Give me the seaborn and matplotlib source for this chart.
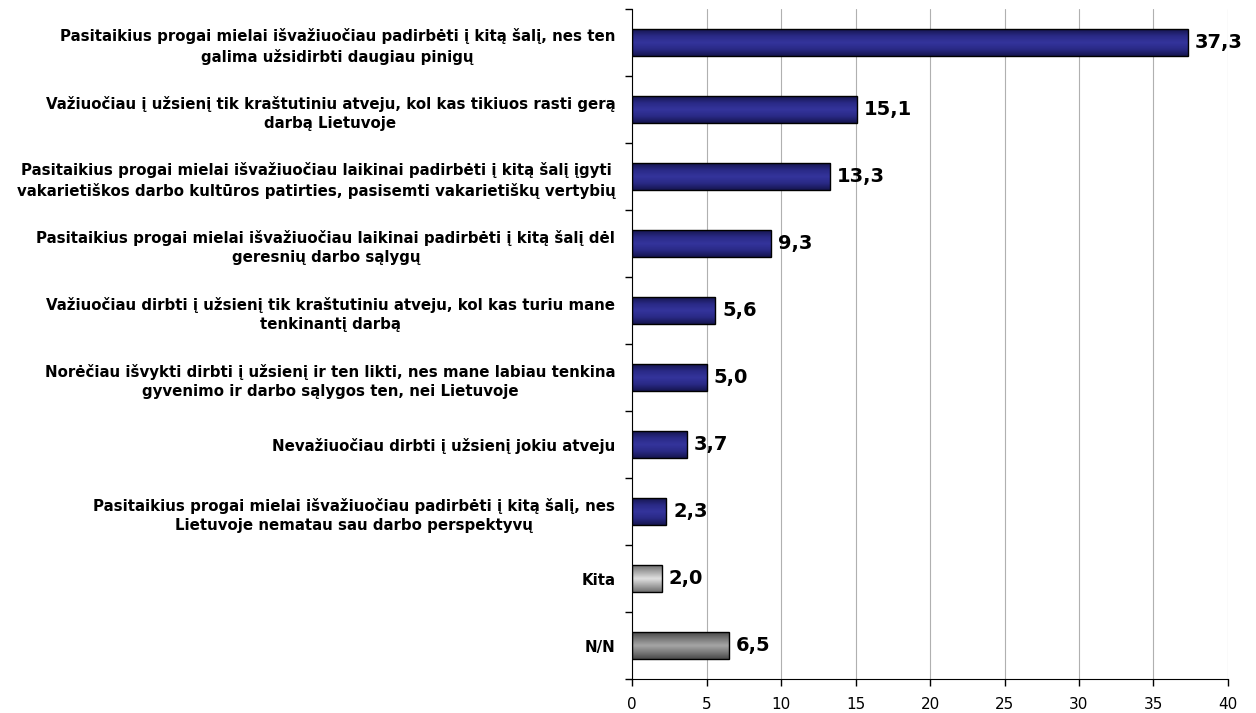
import numpy as np
import pandas as pd
import matplotlib
matplotlib.use('Agg')
import matplotlib.pyplot as plt
from matplotlib.colors import LinearSegmentedColormap
import seaborn as sns

# duomenys
labels = [
    'Pasitaikius progai mielai išvažiuočiau padirbėti į kitą šalį, nes ten\ngalima užsidirbti daugiau pinigų',
    'Važiuočiau į užsienį tik kraštutiniu atveju, kol kas tikiuos rasti gerą\ndarbą Lietuvoje',
    'Pasitaikius progai mielai išvažiuočiau laikinai padirbėti į kitą šalį įgyti\nvakarietiškos darbo kultūros patirties, pasisemti vakarietiškų vertybių',
    'Pasitaikius progai mielai išvažiuočiau laikinai padirbėti į kitą šalį dėl\ngeresnių darbo sąlygų',
    'Važiuočiau dirbti į užsienį tik kraštutiniu atveju, kol kas turiu mane\ntenkinantį darbą',
    'Norėčiau išvykti dirbti į užsienį ir ten likti, nes mane labiau tenkina\ngyvenimo ir darbo sąlygos ten, nei Lietuvoje',
    'Nevažiuočiau dirbti į užsienį jokiu atveju',
    'Pasitaikius progai mielai išvažiuočiau padirbėti į kitą šalį, nes\nLietuvoje nematau sau darbo perspektyvų',
    'Kita',
    'N/N',
]
values = [37.3, 15.1, 13.3, 9.3, 5.6, 5.0, 3.7, 2.3, 2.0, 6.5]
bar_kind = ['blue'] * 8 + ['light', 'dark']

df = pd.DataFrame({'label': labels, 'value': values})

sns.set_style('white')
plt.rcParams['font.family'] = ['DejaVu Sans']
plt.rcParams['text.color'] = 'black'
plt.rcParams['xtick.color'] = 'black'
plt.rcParams['ytick.color'] = 'black'

fig = plt.figure(figsize=(12.56, 7.13), dpi=100)
ax = fig.add_axes([0.5032, 0.0477, 0.4745, 0.9393])

sns.barplot(data=df, x='value', y='label', orient='h', color='#333399',
            width=0.4, edgecolor='black', linewidth=1.0, ax=ax, zorder=3)

grads = {
    'blue': ['#15154f', '#2a2a86', '#34349c', '#2a2a86', '#15154f'],
    'light': ['#6e6e6e', '#a8a8a8', '#e0e0e0', '#a8a8a8', '#6e6e6e'],
    'dark': ['#4a4a4a', '#7a7a7a', '#a6a6a6', '#7a7a7a', '#4a4a4a'],
}
grad = np.linspace(0, 1, 100).reshape(-1, 1)
for patch, kind, v in zip(ax.patches, bar_kind, values):
    x0, y0 = patch.get_x(), patch.get_y()
    w, h = patch.get_width(), patch.get_height()
    cmap = LinearSegmentedColormap.from_list(kind, grads[kind])
    patch.set_facecolor('none')
    im = ax.imshow(grad, cmap=cmap, aspect='auto', extent=[x0, x0 + w, y0 + h, y0],
                   zorder=2, interpolation='bicubic')
    im.set_clip_path(patch)
    ax.annotate(f'{v:.1f}'.replace('.', ','), xy=(x0 + w, y0 + h / 2),
                xytext=(5, 0), textcoords='offset points', va='center', ha='left',
                fontsize=14, fontweight='bold', color='black', zorder=5,
                annotation_clip=False)

ax.set_xlim(0, 40)
ax.set_ylim(9.5, -0.5)
ax.set_xticks(np.arange(0, 41, 5))
ax.set_xticklabels([str(t) for t in range(0, 41, 5)], fontsize=11)
ax.set_yticks(np.arange(-0.5, 10, 1))
ax.set_yticklabels([])
ax.set_yticks(np.arange(10), minor=True)
ax.set_yticklabels(labels, minor=True, fontsize=10.8, fontweight='bold',
                   ha='right', multialignment='center', linespacing=1.35)
ax.tick_params(axis='y', which='major', direction='out', length=5, width=1, left=True)
ax.tick_params(axis='y', which='minor', length=0, pad=12)
ax.tick_params(axis='x', direction='out', length=5, width=1, bottom=True, pad=8)

ax.grid(axis='x', color='#b0b0b0', linewidth=0.8, zorder=0)
ax.set_axisbelow(True)
sns.despine(ax=ax, top=True, right=True)
ax.spines['left'].set_color('black')
ax.spines['bottom'].set_color('black')
ax.set_xlabel('')
ax.set_ylabel('')

plt.savefig('out.png', dpi=100)
